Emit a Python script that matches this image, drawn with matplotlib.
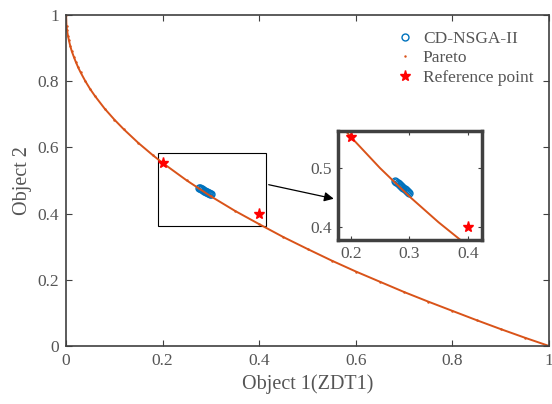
import matplotlib
matplotlib.use('Agg')
import matplotlib.pyplot as plt

# Pareto front of ZDT1
pareto_x = [0, 0.001, 0.002, 0.004, 0.006, 0.009, 0.012, 0.016, 0.02, 0.025, 0.03,
            0.04, 0.05, 0.06, 0.08, 0.1, 0.12, 0.15, 0.18, 0.2, 0.25, 0.3, 0.35,
            0.4, 0.45, 0.5, 0.55, 0.6, 0.65, 0.7, 0.75, 0.8, 0.85, 0.9, 0.95, 1.0]
pareto_y = [1.0, 0.968, 0.955, 0.937, 0.923, 0.905, 0.890, 0.874, 0.859, 0.842, 0.827,
            0.800, 0.776, 0.755, 0.717, 0.684, 0.654, 0.613, 0.576, 0.553, 0.500, 0.452, 0.408,
            0.368, 0.329, 0.293, 0.258, 0.225, 0.194, 0.163, 0.134, 0.106, 0.078, 0.051, 0.025, 0.0]

# CD-NSGA-II solutions (cluster)
nsga_x = [0.276, 0.278, 0.280, 0.282, 0.284, 0.286, 0.288, 0.290, 0.292, 0.294, 0.296, 0.298, 0.300]
nsga_y = [0.478, 0.476, 0.474, 0.473, 0.471, 0.469, 0.468, 0.466, 0.464, 0.463, 0.461, 0.459, 0.458]

# reference points
ref_x = [0.2, 0.4]
ref_y = [0.553, 0.4]

main_ticks = [0, 0.2, 0.4, 0.6, 0.8, 1]
main_ticklabels = ['0', '0.2', '0.4', '0.6', '0.8', '1']

text_c = '#555555'
spine_c = '#404040'
plt.rcParams['font.family'] = ['Liberation Serif', 'DejaVu Serif']

fig = plt.figure(figsize=(5.52, 4.04), dpi=100)
ax = fig.add_axes([0.1196, 0.1436, 0.875, 0.8194])

ax.plot(nsga_x, nsga_y, 'o', mfc='none', mec='#0072BD', ms=5, mew=1.0, label='CD-NSGA-II')
ax.plot(pareto_x, pareto_y, '-', color='#D95319', lw=1.4)
ax.plot(pareto_x, pareto_y, '.', color='#D95319', ms=1.5, label='Pareto')
ax.plot(ref_x, ref_y, '*', color='red', ms=8, label='Reference point')

ax.set_xlim(0, 1)
ax.set_ylim(0, 1)
ax.set_xticks(main_ticks)
ax.set_xticklabels(main_ticklabels)
ax.set_yticks(main_ticks)
ax.set_yticklabels(main_ticklabels)
ax.tick_params(direction='in', top=True, right=True, labelsize=12.5, colors=spine_c,
               labelcolor=text_c, length=4, pad=5)
for s in ax.spines.values():
    s.set_color(spine_c)
    s.set_linewidth(1.2)
ax.set_xlabel('Object 1(ZDT1)', fontsize=14.5, color=text_c, labelpad=4)
ax.set_ylabel('Object 2', fontsize=14.5, color=text_c, labelpad=4)

leg = ax.legend(loc='upper right', frameon=False, fontsize=12.5, handletextpad=0.4,
                borderaxespad=0.5, labelspacing=0.2, handlelength=1.2)
for t in leg.get_texts():
    t.set_color(text_c)

# zoom rectangle
ax.add_patch(plt.Rectangle((0.19, 0.363), 0.224, 0.22, fill=False, ec='black', lw=0.8))
ax.annotate('', xy=(0.56, 0.443), xytext=(0.414, 0.489),
            arrowprops=dict(arrowstyle='-|>', color='black', lw=0.9, mutation_scale=14))

# inset
ins = fig.add_axes([0.612, 0.406, 0.261, 0.27])
ins.plot(nsga_x, nsga_y, 'o', mfc='none', mec='#0072BD', ms=5, mew=1.0)
ins.plot(pareto_x, pareto_y, '-', color='#D95319', lw=1.4)
ins.plot(ref_x, ref_y, '*', color='red', ms=8)
ins.set_xlim(0.178, 0.424)
ins.set_ylim(0.378, 0.563)
ins.set_xticks([0.2, 0.3, 0.4])
ins.set_xticklabels(['0.2', '0.3', '0.4'])
ins.set_yticks([0.4, 0.5])
ins.set_yticklabels(['0.4', '0.5'])
ins.tick_params(direction='in', top=True, right=True, labelsize=12.5, colors=spine_c,
                labelcolor=text_c, length=3, pad=4)
for s in ins.spines.values():
    s.set_color(spine_c)
    s.set_linewidth(2.5)

fig.savefig('out.png', dpi=100)
plt.close(fig)
